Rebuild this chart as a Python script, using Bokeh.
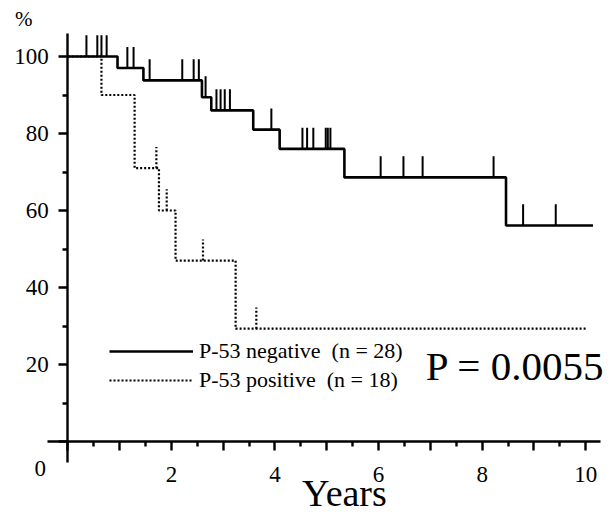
import numpy as np
from bokeh.plotting import figure
from bokeh.models import Range1d, Label, Legend, LegendItem, FixedTicker
from bokeh.embed import file_html
from bokeh.resources import INLINE

# ---- data (Kaplan-Meier curves) ----
# P-53 negative (solid)
neg_times = [0, 0.96, 1.46, 2.59, 2.77, 3.58, 4.09, 5.34, 8.46, 10.14]
neg_surv = [100, 97.0, 93.8, 89.4, 86.0, 81.0, 76.0, 68.6, 56.1, 56.1]
neg_censor = [0.36, 0.57, 0.65, 0.75, 1.15, 1.27, 1.58, 2.21, 2.43, 2.53, 2.66,
              2.87, 2.95, 3.03, 3.13, 3.93, 4.53, 4.62, 4.74, 4.98, 5.02, 5.07,
              6.04, 6.48, 6.85, 8.22, 8.79, 9.42]

# P-53 positive (dotted)
pos_times = [0, 0.65, 1.29, 1.76, 2.08, 3.24, 10.03]
pos_surv = [100, 90.0, 71.0, 60.0, 47.0, 29.3, 29.3]
pos_censor = [1.71, 1.91, 2.61, 3.64]

x_ticks = [0, 1, 2, 3, 4, 5, 6, 7, 8, 9, 10]
x_minor = [0.5, 1.5, 2.5, 3.5, 4.5, 5.5, 6.5, 7.5, 8.5, 9.5]
x_labels = {0: "", 1: "", 2: "2", 3: "", 4: "4", 5: "", 6: "6", 7: "", 8: "8", 9: "", 10: "10"}
y_ticks = [0, 20, 40, 60, 80, 100]
y_minor = [10, 30, 50, 70, 90]
y_labels = {0: "", 20: "20", 40: "40", 60: "60", 80: "80", 100: "100"}

legend_neg = "P-53 negative  (n = 28)"
legend_pos = "P-53 positive  (n = 18)"
p_value_text = "P = 0.0055"

FONT = "Liberation Serif"
TICK_H = 5.5


def level_at(times, surv, t):
    idx = np.searchsorted(np.array(times), t, side="right") - 1
    return float(np.array(surv)[idx])


p = figure(width=616, height=516, output_backend="svg", toolbar_location=None,
           x_range=Range1d(-1.299, 10.593), y_range=Range1d(-19.48, 114.55),
           min_border_left=0, min_border_right=0, min_border_top=0, min_border_bottom=0)
p.outline_line_color = None
p.xgrid.visible = False
p.ygrid.visible = False
p.background_fill_color = "white"
p.border_fill_color = "white"

neg_r = p.step(neg_times, neg_surv, mode="after", line_color="black", line_width=2.6)
pos_r = p.step(pos_times, pos_surv, mode="after", line_color="black", line_width=2.2,
               line_dash="2 2")

neg_lv = [level_at(neg_times, neg_surv, t) for t in neg_censor]
p.segment(x0=neg_censor, y0=neg_lv, x1=neg_censor, y1=[v + TICK_H for v in neg_lv],
          line_color="black", line_width=2)
pos_lv = [level_at(pos_times, pos_surv, t) for t in pos_censor]
p.segment(x0=pos_censor, y0=pos_lv, x1=pos_censor, y1=[v + TICK_H for v in pos_lv],
          line_color="black", line_width=2.2, line_dash="2 2")

for ax in (p.xaxis[0], p.yaxis[0]):
    ax.fixed_location = 0
    ax.axis_line_width = 2.4
    ax.major_tick_line_width = 2.4
    ax.minor_tick_line_width = 2.4
    ax.major_tick_in = 0
    ax.minor_tick_in = 0
    ax.major_tick_out = 9
    ax.minor_tick_out = 5
    ax.major_label_text_font = FONT
    ax.major_label_text_font_size = "23px"
    ax.major_label_text_color = "black"
    ax.axis_line_color = "black"
    ax.major_tick_line_color = "black"
    ax.minor_tick_line_color = "black"

p.xaxis.bounds = (-0.39, 10.28)
p.yaxis.bounds = (-5.45, 106)
p.xaxis.ticker = FixedTicker(ticks=x_ticks, minor_ticks=x_minor)
p.xaxis.major_label_overrides = x_labels
p.xaxis.major_label_standoff = 16
p.yaxis.ticker = FixedTicker(ticks=y_ticks, minor_ticks=y_minor)
p.yaxis.major_label_overrides = y_labels
p.yaxis.major_label_standoff = 10

p.add_layout(Label(x=-0.53, y=-6.9, text="0", text_align="center", text_baseline="alphabetic",
                   text_font=FONT, text_font_size="23px", text_color="black"))
p.add_layout(Label(x=-1.02, y=109.8, text="%", text_align="left", text_baseline="alphabetic",
                   text_font=FONT, text_font_size="21px", text_color="black"))
p.add_layout(Label(x=5.34, y=-13.5, text="Years", text_align="center", text_baseline="alphabetic",
                   text_font=FONT, text_font_size="38px", text_color="black"))
p.add_layout(Label(x=8.64, y=19.6, text=p_value_text, text_align="center", text_baseline="alphabetic",
                   text_font=FONT, text_font_size="41px", text_color="black"))

legend = Legend(items=[LegendItem(label=legend_neg, renderers=[neg_r]),
                       LegendItem(label=legend_pos, renderers=[pos_r])],
                location=(109, 123), padding=0, margin=0, spacing=3,
                glyph_width=84, glyph_height=20, label_height=20, label_standoff=6,
                label_text_font=FONT, label_text_font_size="22px", label_text_color="black",
                border_line_color=None, background_fill_alpha=0)
p.add_layout(legend, "center")

open("out.html", "w").write(file_html(p, INLINE))
